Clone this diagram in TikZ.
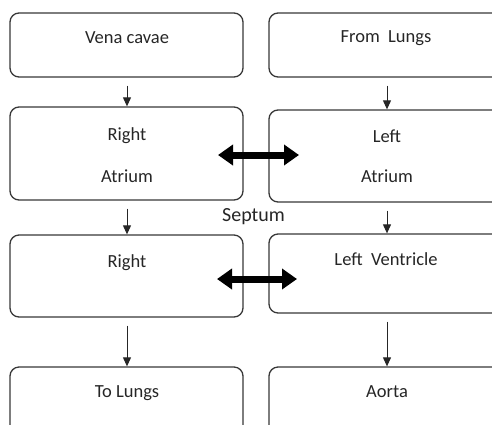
\documentclass[tikz,border=0pt]{standalone}
\usepackage{fontspec}
\setmainfont{Carlito}
\usetikzlibrary{arrows.meta}
\begin{document}
\begin{tikzpicture}[x=1pt,y=-1pt,
  chamber/.style={draw=black!78, line width=1.3pt, rounded corners=9pt, fill=white,
    inner sep=0pt},
  lbl/.style={anchor=base, inner sep=0pt, text=black!85, font=\fontsize{18.5}{20}\selectfont},
  flow/.style={draw=black!85, line width=1pt, shorten <=8pt,
    -{Triangle[width=8pt,length=9pt]}},
  septarrow/.style={line width=7pt, draw=black,
    {Triangle[width=20pt,length=15pt]}-{Triangle[width=20pt,length=15pt]}}]
  \useasboundingbox (0,0) rectangle (492,424);
  \clip (0,0) rectangle (492,424);

  % left column
  \node[chamber, minimum width=233pt, minimum height=64pt] (vc) at (126.5,45) {};
  \node[chamber, minimum width=233pt, minimum height=93pt] (ra) at (126.5,153.5) {};
  \node[chamber, minimum width=233pt, minimum height=82pt] (rv) at (126.5,276) {};
  \node[chamber, minimum width=233pt, minimum height=80pt] (tl) at (126.5,407) {};

  % right column
  \node[chamber, minimum width=236pt, minimum height=64pt] (fl) at (387,45) {};
  \node[chamber, minimum width=236pt, minimum height=92pt] (la) at (387,156) {};
  \node[chamber, minimum width=236pt, minimum height=79pt] (lv) at (387,273.5) {};
  \node[chamber, minimum width=236pt, minimum height=80pt] (ao) at (387,407) {};

  % labels
  \node[lbl] (tvc) at (127,43) {Vena cavae};
  \node[lbl] (tra1) at (127,140) {Right};
  \node[lbl] (tra2) at (127,182) {Atrium};
  \node[lbl] (trv) at (127,267) {Right};
  \node[lbl] (ttl) at (127,397) {To Lungs};
  \node[lbl] (tfl) at (386,42) {From\hspace{0.45em}Lungs};
  \node[lbl] (tla1) at (387,142) {Left};
  \node[lbl] (tla2) at (387,182) {Atrium};
  \node[lbl] (tlv) at (386,265) {Left\hspace{0.45em}Ventricle};
  \node[lbl] (tao) at (387,397) {Aorta};
  \node[lbl, font=\fontsize{20}{22}\selectfont] (sep) at (253.5,221) {Septum};

  % blood flow
  \draw[flow] (vc.south -| 127,0) -- (ra.north -| 127,0);
  \draw[flow] (ra.south -| 127,0) -- (rv.north -| 127,0);
  \draw[flow] (rv.south -| 127,0) -- (tl.north -| 127,0);
  \draw[flow] (fl.south -| 387,0) -- (la.north -| 387,0);
  \draw[flow] (la.south -| 387,0) -- (lv.north -| 387,0);
  \draw[flow] (lv.south -| 387,0) -- (ao.north -| 387,0);

  % exchange across the septum
  \coordinate (a1) at (218,155);
  \coordinate (b1) at (299,155);
  \coordinate (a2) at (217,279);
  \coordinate (b2) at (297,279);
  \draw[septarrow] (a1) -- (b1);
  \draw[septarrow] (a2) -- (b2);
\end{tikzpicture}
\end{document}
